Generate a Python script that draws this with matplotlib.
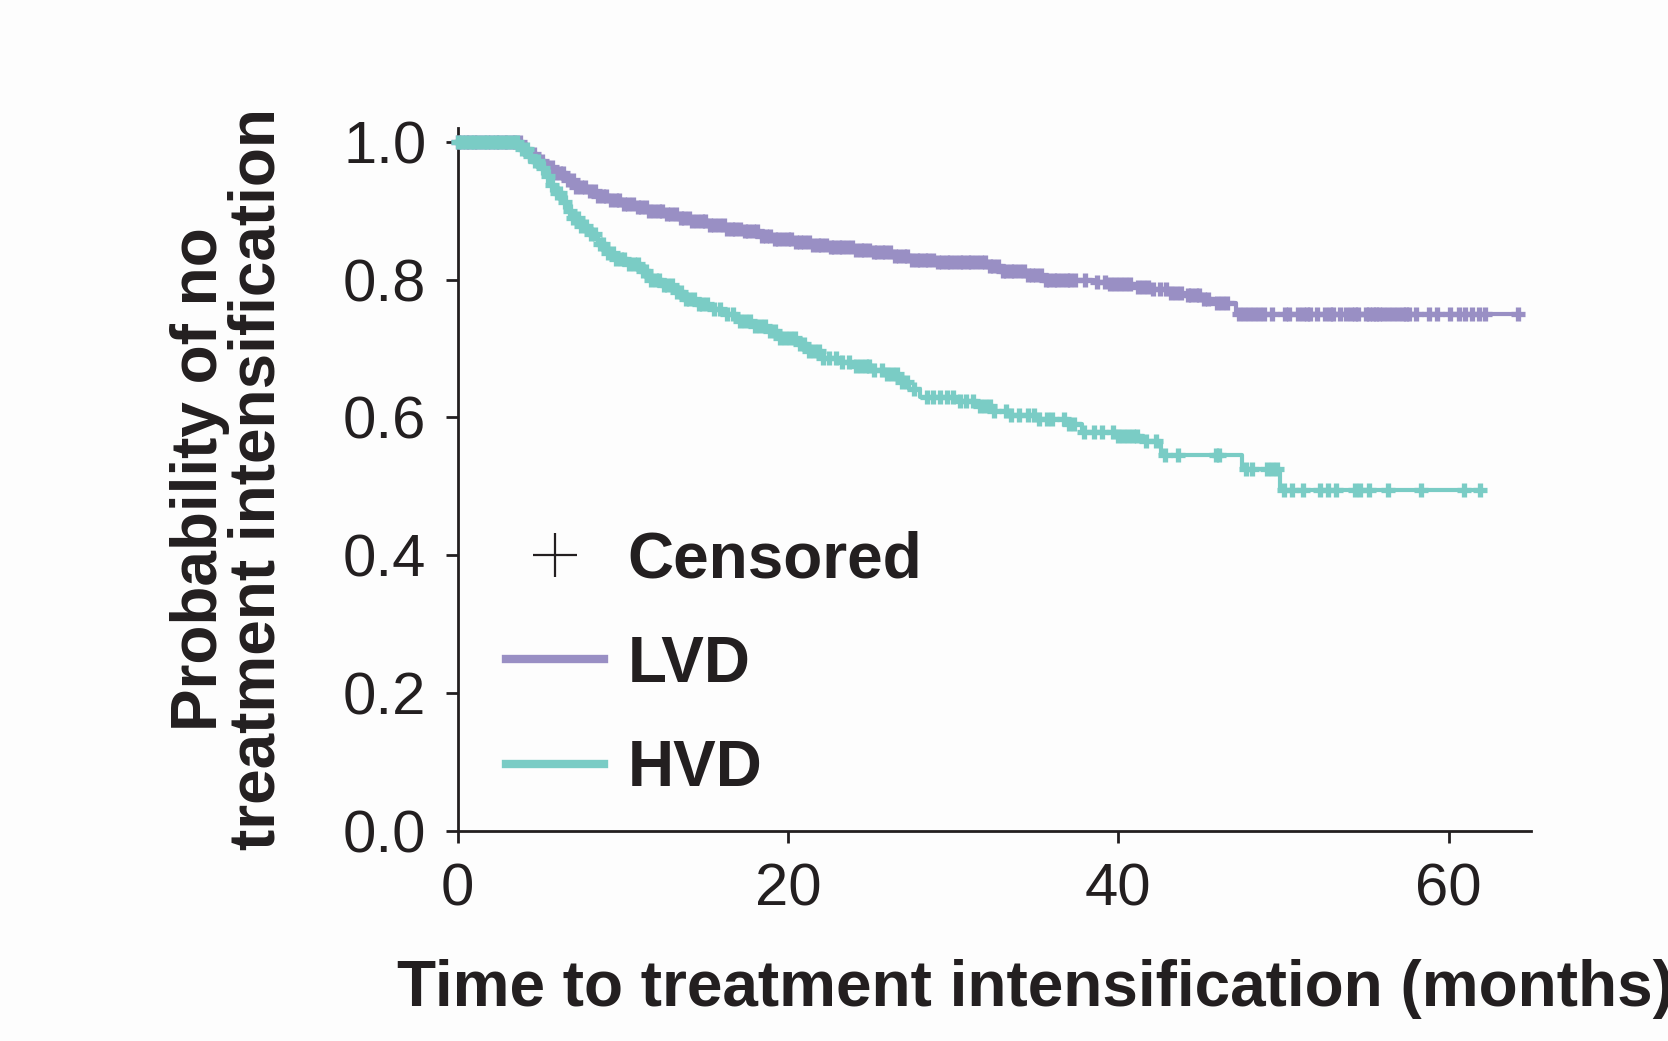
import numpy as np
import matplotlib
matplotlib.use("Agg")
import matplotlib.pyplot as plt
from matplotlib.lines import Line2D

plt.rcParams['font.family'] = ['Liberation Sans', 'DejaVu Sans']

# ---------------- data ----------------
groups = ["LVD", "HVD"]
colors = {"LVD": "#998fc4", "HVD": "#7accc5"}

# event times (months) and survival after each event
lvd_times = [3.9, 4.3, 4.8, 5.3, 5.8, 6.5, 7.1, 7.8, 8.5, 9.3, 10.0, 10.8, 11.6, 12.5,
             13.3, 14.2, 15.2, 16.2, 17.2, 18.2, 19.2, 20.5, 21.5, 22.5, 24.0, 25.0,
             26.5, 27.5, 29.0, 32.0, 33.0, 34.5, 35.5, 38.5, 39.5, 41.0, 42.0, 43.0,
             44.0, 45.0, 45.8, 47.1]
lvd_surv = [0.990, 0.982, 0.972, 0.963, 0.955, 0.945, 0.935, 0.928, 0.922, 0.915, 0.910,
            0.905, 0.900, 0.895, 0.890, 0.885, 0.880, 0.874, 0.870, 0.864, 0.859, 0.855,
            0.850, 0.847, 0.843, 0.840, 0.834, 0.829, 0.826, 0.820, 0.813, 0.807, 0.800,
            0.797, 0.794, 0.790, 0.786, 0.781, 0.777, 0.772, 0.766, 0.750]
lvd_censored = [0.0, 0.2, 0.5, 0.7, 1.0, 1.2, 1.5, 1.8, 2.0, 2.3, 2.5, 2.8, 3.0, 3.3, 3.5,
                3.8, 4.1, 4.4, 4.6, 4.9, 5.1, 5.4, 5.7, 5.9, 6.2, 6.4, 6.7, 7.0, 7.2, 7.5,
                7.7, 8.0, 8.3, 8.5, 8.8, 9.0, 9.3, 9.6, 9.8, 10.1, 10.3, 10.6, 10.9, 11.1,
                11.4, 11.6, 11.9, 12.2, 12.4, 12.7, 12.9, 13.2, 13.5, 13.7, 14.0, 14.2,
                14.5, 14.8, 15.0, 15.3, 15.5, 15.8, 16.1, 16.3, 16.6, 16.8, 17.1, 17.4,
                17.6, 17.9, 18.1, 18.4, 18.7, 18.9, 19.2, 19.4, 19.7, 20.0, 20.2, 20.5,
                20.7, 21.0, 21.3, 21.5, 21.8, 22.0, 22.3, 22.6, 22.8, 23.1, 23.3, 23.6,
                23.9, 24.1, 24.4, 24.6, 24.9, 25.2, 25.4, 25.7, 25.9, 26.2, 26.5, 26.7,
                27.0, 27.2, 27.5, 27.8, 28.0, 28.3, 28.5, 28.8, 29.1, 29.3, 29.6, 29.8,
                30.1, 30.4, 30.6, 30.9, 31.1, 31.4, 31.7, 31.9, 32.2, 32.4, 32.7, 33.0,
                33.2, 33.5, 33.7, 34.0, 34.3, 34.5, 34.8, 35.0, 35.3, 35.6, 35.8, 36.1,
                36.3, 36.6, 36.9, 37.1, 37.4, 38.0, 38.7, 39.2, 39.5, 39.8, 40.1, 40.4,
                40.7, 41.2, 41.5, 41.8, 42.1, 42.5, 42.9, 43.2, 43.5, 43.8, 44.2, 44.4,
                44.7, 44.9, 45.2, 45.4, 46.0, 46.3, 46.6, 47.3, 47.6, 47.9, 48.2, 48.5,
                48.8, 49.3, 50.1, 50.3, 50.9, 51.2, 51.4, 51.6, 52.0, 52.5, 52.8, 53.0,
                53.4, 53.8, 54.1, 54.3, 54.5, 55.0, 55.2, 55.4, 55.6, 55.8, 56.0, 56.3,
                56.6, 56.9, 57.2, 57.4, 57.6, 58.0, 58.8, 59.3, 60.1, 60.6, 61.0, 61.4,
                61.8, 62.2, 64.2]

hvd_times = [3.9, 4.3, 4.7, 5.0, 5.4, 5.7, 6.0, 6.3, 6.6, 7.0, 7.5, 8.0, 8.5, 9.0, 9.5,
             10.2, 11.0, 11.7, 12.4, 13.1, 13.8, 14.5, 15.3, 16.0, 17.0, 17.8, 18.7,
             19.5, 20.5, 21.3, 22.1, 23.0, 24.0, 25.0, 26.0, 26.8, 27.3, 28.0, 30.3,
             31.5, 32.5, 33.5, 35.0, 37.0, 37.8, 40.0, 41.5, 42.6, 47.5, 49.8]
hvd_surv = [0.990, 0.980, 0.972, 0.962, 0.950, 0.938, 0.926, 0.912, 0.900, 0.890, 0.878,
            0.866, 0.852, 0.838, 0.830, 0.822, 0.812, 0.800, 0.792, 0.782, 0.772, 0.765,
            0.758, 0.750, 0.740, 0.733, 0.725, 0.715, 0.707, 0.697, 0.687, 0.680, 0.675,
            0.669, 0.663, 0.652, 0.641, 0.630, 0.624, 0.616, 0.609, 0.604, 0.598, 0.590,
            0.579, 0.573, 0.566, 0.546, 0.525, 0.495]
hvd_censored = [0.0, 0.3, 0.5, 0.8, 1.0, 1.3, 1.6, 1.8, 2.1, 2.3, 2.6, 2.9, 3.1, 3.4, 3.6,
                3.9, 4.2, 4.4, 4.7, 4.9, 5.2, 5.5, 5.7, 6.0, 6.2, 6.5, 6.8, 7.0, 7.3, 7.5,
                7.8, 8.1, 8.3, 8.6, 8.8, 9.1, 9.4, 9.6, 9.9, 10.1, 10.4, 10.7, 10.9, 11.2,
                11.4, 11.7, 12.0, 12.2, 12.5, 12.7, 13.0, 13.3, 13.5, 13.8, 14.0, 14.3,
                14.6, 14.8, 15.1, 15.5, 15.9, 16.3, 16.7, 17.1, 17.4, 17.7, 18.0, 18.3,
                18.6, 18.9, 19.2, 19.5, 19.8, 20.1, 20.4, 20.7, 21.0, 21.3, 21.6, 21.9,
                22.1, 22.5, 22.9, 23.3, 23.7, 24.1, 24.4, 24.7, 24.9, 25.2, 25.7, 26.0,
                26.3, 26.6, 26.9, 27.2, 27.6, 28.4, 28.8, 29.2, 29.6, 30.0, 30.4, 30.8,
                31.2, 31.6, 31.9, 32.2, 32.5, 33.2, 33.5, 34.0, 34.5, 34.9, 35.2, 35.7,
                36.0, 36.7, 37.0, 37.3, 37.9, 38.5, 39.0, 39.7, 40.0, 40.3, 40.6, 40.9,
                41.1, 41.7, 42.3, 42.8, 43.6, 45.9, 46.1, 47.7, 48.1, 49.0, 49.3, 49.6,
                50.0, 50.5, 51.2, 52.2, 52.7, 53.2, 54.3, 54.6, 55.2, 56.3, 58.3, 60.9,
                61.9]

x_ticks = [0, 20, 40, 60]
y_ticks = [0.0, 0.2, 0.4, 0.6, 0.8, 1.0]
x_label = "Time to treatment intensification (months)"
y_label = "Probability of no\ntreatment intensification"
legend_labels = ["Censored", "LVD", "HVD"]

series = {
    "LVD": (lvd_times, lvd_surv, lvd_censored),
    "HVD": (hvd_times, hvd_surv, hvd_censored),
}

# ---------------- plot ----------------
TXT = "#231f20"
fig = plt.figure(figsize=(16.68, 10.41), dpi=100)
fig.patch.set_facecolor("#fdfdfd")
ax = fig.add_axes([0.2743, 0.2019, 0.6438, 0.6754])
ax.set_facecolor("#fdfdfd")

for g in groups:
    t, s, c = series[g]
    t = np.asarray(t); s = np.asarray(s); c = np.asarray(c)
    end = max(c.max(), t.max())
    tt = np.concatenate([[0.0], t, [end]])
    ss = np.concatenate([[1.0], s, [s[-1]]])
    ax.step(tt, ss, where="post", color=colors[g], lw=3.0, solid_capstyle="butt", zorder=3)
    idx = np.searchsorted(t, c, side="right") - 1
    cy = np.where(idx >= 0, s[np.clip(idx, 0, None)], 1.0)
    ax.plot(c, cy, ls="none", marker="+", ms=9.5, mew=3.8, color=colors[g],
            zorder=3, clip_on=False)

ax.set_xlim(0, 65)
ax.set_ylim(0, 1.0205)
ax.set_xticks(x_ticks)
ax.set_yticks(y_ticks)
ax.set_yticklabels([f"{v:.1f}" for v in y_ticks])
for sp in ["top", "right"]:
    ax.spines[sp].set_visible(False)
for sp in ["left", "bottom"]:
    ax.spines[sp].set_linewidth(2.0)
    ax.spines[sp].set_color(TXT)
ax.tick_params(axis="both", which="major", length=8.5, width=2.0, color=TXT,
               labelsize=43, labelcolor=TXT)
ax.tick_params(axis="y", pad=14)
ax.tick_params(axis="x", pad=14)

ax.set_xlabel(x_label, fontsize=46, fontweight="bold", color=TXT, va="center", ha="center")
ax.xaxis.set_label_coords(0.538, -0.225)
ax.set_ylabel(y_label, fontsize=46, fontweight="bold", color=TXT, va="center", ha="center",
              linespacing=0.95, multialignment="center")
ax.yaxis.set_label_coords(-0.2128, 0.5)

handles = [
    Line2D([], [], ls="none", marker="+", ms=32, mew=1.6, color=TXT),
    Line2D([], [], color=colors["LVD"], lw=6),
    Line2D([], [], color=colors["HVD"], lw=6),
]
leg = ax.legend(handles, legend_labels, loc="upper left",
                bbox_to_anchor=(506 / 1668, 1 - 530 / 1041),
                bbox_transform=fig.transFigure, frameon=False, borderpad=0,
                borderaxespad=0, handlelength=1.53, handletextpad=0.37,
                labelspacing=0.70, prop={"family": "Liberation Sans", "weight": "bold",
                                         "size": 46})
for txt in leg.get_texts():
    txt.set_color(TXT)

fig.savefig("out.png", dpi=100, facecolor=fig.get_facecolor())
